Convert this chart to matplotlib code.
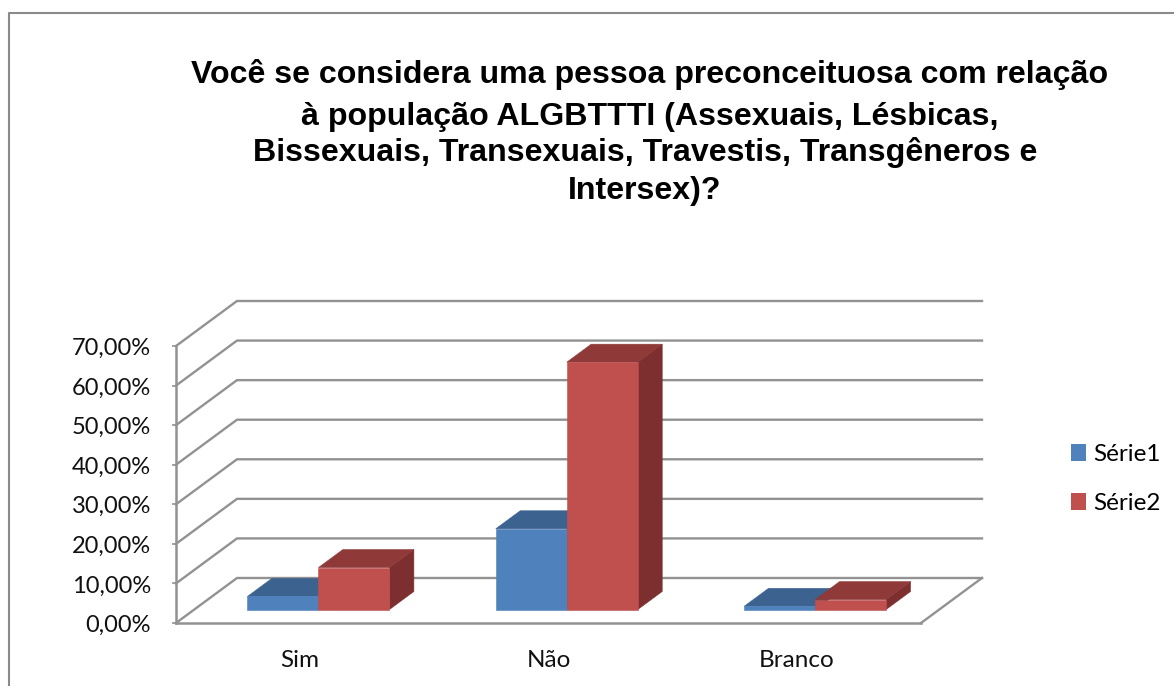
import matplotlib
matplotlib.use("Agg")
import matplotlib.pyplot as plt
from matplotlib.lines import Line2D
from matplotlib.patches import Patch, Polygon
from matplotlib.transforms import ScaledTranslation

W, H = 1174, 686

# values
categories = ["Sim", "Não", "Branco"]
serie1 = [3.3, 20.4, 0.8]
serie2 = [10.6, 62.5, 2.5]
yticks = [0, 10, 20, 30, 40, 50, 60, 70]
title_lines = [
    "Você se considera uma pessoa preconceituosa com relação",
    "à população ALGBTTTI (Assexuais, Lésbicas,",
    "Bissexuais, Transexuais, Travestis, Transgêneros e",
    "Intersex)?",
]

GRID = "#929292"
BLUE = ("#4f81bd", "#3c628f", "#2f4d71")
RED = ("#c0504d", "#8f3a38", "#7c2f2e")

# oblique offset of the back wall, in data units
DX = 61 / 745 * 3
DY = 45 / 277 * 70
BAR_W = 71 / 248.3
D0, D1 = 0.3, 0.7


def proj(x, y, d):
    return x + d * DX, y + d * DY


def draw_bar(ax, x, val, colors):
    front = [proj(x, 0, D0), proj(x + BAR_W, 0, D0), proj(x + BAR_W, val, D0), proj(x, val, D0)]
    top = [proj(x, val, D0), proj(x + BAR_W, val, D0), proj(x + BAR_W, val, D1), proj(x, val, D1)]
    side = [proj(x + BAR_W, 0, D0), proj(x + BAR_W, 0, D1), proj(x + BAR_W, val, D1), proj(x + BAR_W, val, D0)]
    for pts, c in [(side, colors[2]), (top, colors[1]), (front, colors[0])]:
        ax.add_patch(Polygon(pts, closed=True, fc=c, ec=c, lw=0.4, clip_on=False, zorder=3))


plt.rcParams["font.family"] = ["Lato", "DejaVu Sans"]
fig = plt.figure(figsize=(W / 100, H / 100), dpi=100)
ax = fig.add_axes([176 / W, (H - 623) / H, 745 / W, 277 / H])
ax.set_xlim(0, 3)
ax.set_ylim(0, 70)
ax.patch.set_alpha(0)

# walls
for v in yticks:
    ax.plot([0, DX, 3 + DX], [v, v + DY, v + DY], color=GRID, lw=1.7, clip_on=False, zorder=1,
            solid_joinstyle="miter")
ax.plot([3, 3 + DX], [0, DY], color=GRID, lw=1.7, clip_on=False, zorder=1)

# bars
for i in range(len(categories)):
    left = i + (1 - 2 * BAR_W) / 2
    draw_bar(ax, left, serie1[i], BLUE)
    draw_bar(ax, left + BAR_W, serie2[i], RED)

for s in ["top", "right"]:
    ax.spines[s].set_visible(False)
for s in ["left", "bottom"]:
    ax.spines[s].set_color(GRID)
    ax.spines[s].set_linewidth(1.8)

ax.set_yticks(yticks)
ax.set_yticklabels([f"{v:.2f}%".replace(".", ",") for v in yticks], fontsize=17, color="#111111",
                   va="center")
ax.set_xticks([i + 0.5 for i in range(len(categories))])
ax.set_xticklabels(categories, fontsize=17.5, color="#111111")
ax.tick_params(axis="y", length=3, width=1.2, color=GRID, pad=15)
ax.tick_params(axis="x", length=0, pad=19.5)

# Lato sits a bit high, nudge the y labels down
for lab in ax.get_yticklabels():
    lab.set_transform(lab.get_transform() + ScaledTranslation(0, -2.5 / 100, fig.dpi_scale_trans))

# title, line by line because the spacing is uneven
for line, xp, yp in zip(title_lines, [650, 650, 645, 645], [74, 117, 153, 191]):
    fig.text(xp / W, 1 - yp / H, line, ha="center", va="center", fontsize=23.1, fontweight="bold",
             family=["Liberation Sans"], color="black")

handles = [Patch(fc=BLUE[0], ec="none"), Patch(fc=RED[0], ec="none")]
fig.legend(handles, ["Série1", "Série2"], loc="center left", bbox_to_anchor=(1071 / W, 1 - 479 / H),
           frameon=False, fontsize=17.5, handlelength=0.62, handleheight=0.65, handletextpad=0.29,
           labelspacing=1.15, borderpad=0, borderaxespad=0)

# outer frame of the chart, cut off at the right and bottom
fig.add_artist(Line2D([9 / W, 9 / W, 1], [0, 1 - 13 / H, 1 - 13 / H], color="#8a8a8a", lw=1.5,
                      transform=fig.transFigure))

fig.savefig("out.png", dpi=100)
